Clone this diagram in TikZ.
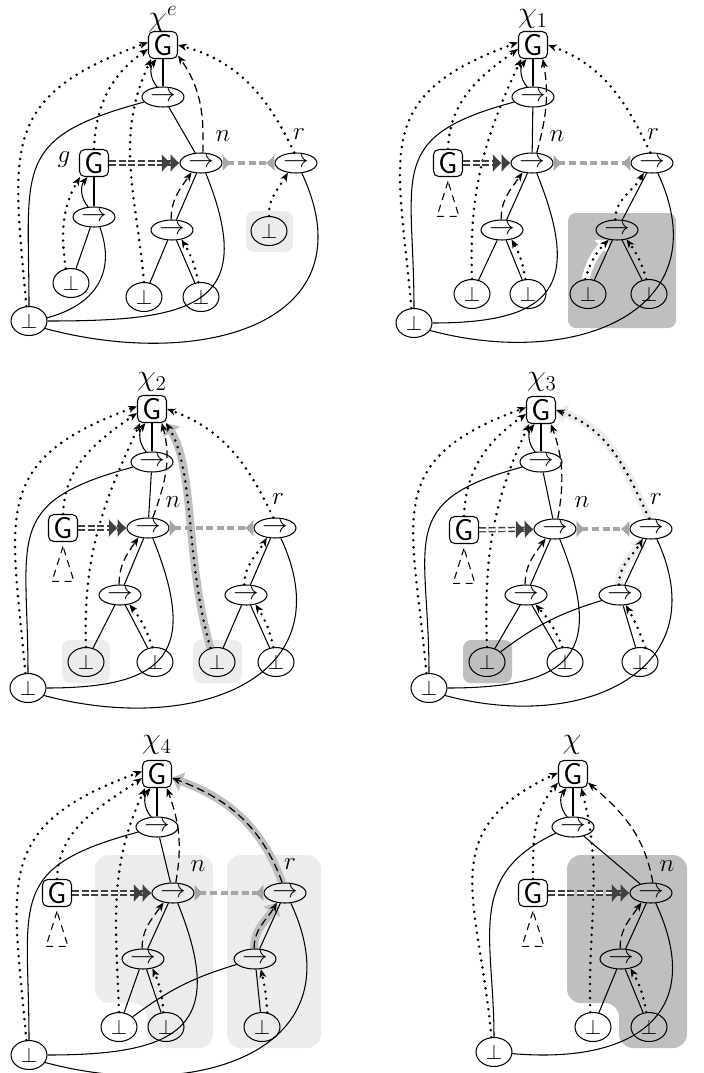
\documentclass[tikz,border=0pt]{standalone}
\usetikzlibrary{shapes.geometric, arrows.meta, backgrounds}

\begin{document}
\begin{tikzpicture}[
    x=0.02cm, y=-0.02cm, line width=0.6pt,
    op/.style={ellipse, draw, minimum width=0.84cm, minimum height=0.4cm, inner sep=0pt, font=\Large},
    bt/.style={ellipse, draw, minimum width=0.72cm, minimum height=0.58cm, inner sep=0pt, font=\large},
    gl/.style={rectangle, draw, rounded corners=3pt, minimum width=0.58cm, minimum height=0.54cm, inner sep=0pt, font=\LARGE\sffamily},
    lab/.style={inner sep=0pt, font=\LARGE},
    nm/.style={inner sep=0pt, font=\Large},
    sol/.style={-{Stealth[length=5pt, width=4pt, inset=1.5pt, line width=0.5pt]}},
    dts/.style={sol, line width=1.6pt, line cap=round, dash pattern=on 0pt off 4pt},
    dsh/.style={sol, line width=0.7pt, dash pattern=on 4.5pt off 2.5pt},
    imp/.style={double=white, double distance=1.4pt, line width=0.8pt, black!75, dash pattern=on 4pt off 1.5pt,
        -{Latex[length=5pt, width=10pt, line width=0pt]Latex[length=5pt, width=10pt, line width=0pt]}},
    eq/.style={line width=2.6pt, gray!70, dash pattern=on 4pt off 2pt,
        {Latex[reversed, length=5pt, width=10pt]}-{Latex[reversed, length=5pt, width=10pt]}},
    hl/.style={line width=4.5pt, -{Triangle[length=6pt, width=11pt]}},
    tri/.style={dash pattern=on 4pt off 3pt},
    box/.style={rounded corners=4.5pt},
]
\useasboundingbox (0,0) rectangle (704,1073);

\node[lab] (chi1) at (163,19) {$\chi^e$};
\node[gl] (G1) at (163,45) {G};
\node[op] (a1) at (163,97) {$\to$};
\node[op] (n1) at (201,163) {$\to$};
\node[op] (r1) at (296,163) {$\to$};
\node[gl] (g1) at (94,163) {G};
\node[op] (s1) at (94,217) {$\to$};
\node[bt] (u1) at (71,283) {$\bot$};
\node[op] (m1) at (172,230) {$\to$};
\node[bt] (p1) at (144,297) {$\bot$};
\node[bt] (q1) at (201,297) {$\bot$};
\node[bt] (v1) at (269,231) {$\bot$};
\node[bt] (b1) at (29,321) {$\bot$};
\node[nm] (ln1) at (223,136) {$n$};
\node[nm] (lr1) at (299,134) {$r$};
\node[nm] (lg1) at (64,160) {$g$};
\begin{scope}[on background layer]
\fill[gray!15, box] (246,211) rectangle (293,252);
\end{scope}
\draw (G1) -- (a1);
\draw[sol] (a1.120) to[bend left=40] (G1.245);
\draw (a1) -- (n1);
\draw[dsh] (n1.80) to[out=88, in=-55] (G1.-35);
\draw (a1.195) to[out=195, in=90, looseness=1.5] (b1.north);
\draw[dts] (b1.100) to[out=95, in=200, looseness=1.4] (G1.170);
\draw[dts] (g1.north) to[out=88, in=215] (G1.195);
\draw[dts] (p1.north) to[out=95, in=245] (G1.230);
\draw[dts] (r1.100) to[out=115, in=-15] (G1.east);
\draw (g1) -- (s1);
\draw[sol] (s1.120) to[bend left=40] (g1.245);
\draw (s1) -- (u1);
\draw (s1.-60) to[out=-70, in=15, looseness=1.2] (b1.10);
\draw[dts] (u1.110) to[out=98, in=240] (g1.225);
\draw[imp] (g1) -- (n1);
\draw[eq] (n1) -- (r1);
\draw[dsh] (m1.95) to[out=90, in=235] (n1.225);
\draw (n1) -- (m1);
\draw (m1) -- (p1);
\draw (m1) -- (q1);
\draw[dts] (q1.100) to[bend right=10] (m1.-45);
\draw (n1.-65) to[out=-68, in=0, looseness=1.7] (b1.0);
\draw (r1.-60) to[out=-65, in=-15, looseness=1.4] (b1.-25);
\draw[dts] (v1.north) to[out=92, in=240] (r1.230);

\node[lab] (chi2) at (533,19) {$\chi_1$};
\node[gl] (G2) at (533,45) {G};
\node[op] (a2) at (533,97) {$\to$};
\node[op] (n2) at (532,163) {$\to$};
\node[op] (r2) at (652,163) {$\to$};
\node[gl] (g2) at (448,163) {G};
\node[op] (m2) at (502,230) {$\to$};
\node[bt] (p2) at (472,294) {$\bot$};
\node[bt] (q2) at (528,294) {$\bot$};
\node[op] (k2) at (617,230) {$\to$};
\node[bt] (v2) at (588,294) {$\bot$};
\node[bt] (w2) at (649,294) {$\bot$};
\node[bt] (b2) at (414,323) {$\bot$};
\node[nm] (ln2) at (557,136) {$n$};
\node[nm] (lr2) at (653,134) {$r$};
\begin{scope}[on background layer]
\fill[gray!50, box] (568,213) rectangle (676,328);
\draw[hl, white] (v2.100) to[bend left=15] (k2.230);
\end{scope}
\draw[tri] ([yshift=-2.5pt]g2.south) -- ++(-11,35) -- ++(22,0) -- cycle;
\draw (G2) -- (a2);
\draw[sol] (a2.120) to[bend left=40] (G2.245);
\draw (a2) -- (n2);
\draw[dsh] (n2.65) to[out=75, in=-80] (G2.-55);
\draw (a2.195) to[out=195, in=90, looseness=1.5] (b2.north);
\draw[dts] (b2.100) to[out=95, in=200, looseness=1.4] (G2.170);
\draw[dts] (g2.north) to[out=88, in=215] (G2.195);
\draw[dts] (p2.north) to[out=92, in=245] (G2.230);
\draw[dts] (r2.100) to[out=115, in=-20] (G2.east);
\draw[imp] (g2) -- (n2);
\draw[eq] (n2) -- (r2);
\draw[dsh] (m2.95) to[out=90, in=235] (n2.225);
\draw (n2) -- (m2);
\draw (m2) -- (p2);
\draw (m2) -- (q2);
\draw[dts] (q2.100) to[bend right=10] (m2.-45);
\draw (n2.-65) to[out=-68, in=0, looseness=1.7] (b2.0);
\draw (r2.-60) to[out=-65, in=-15, looseness=1.4] (b2.-25);
\draw (r2) -- (k2);
\draw[dts] (k2.100) to[out=88, in=240] (r2.230);
\draw (k2) -- (v2);
\draw (k2) -- (w2);
\draw[dts] (w2.100) to[bend right=10] (k2.-45);
\draw[dts] (v2.100) to[bend left=15] (k2.230);

\node[lab] (chi3) at (152,382) {$\chi_2$};
\node[gl] (G3) at (152,409) {G};
\node[op] (a3) at (152,462) {$\to$};
\node[op] (n3) at (148,528) {$\to$};
\node[op] (r3) at (275,528) {$\to$};
\node[gl] (g3) at (63,528) {G};
\node[op] (m3) at (120,595) {$\to$};
\node[bt] (p3) at (86,662) {$\bot$};
\node[bt] (q3) at (155,662) {$\bot$};
\node[op] (k3) at (246,595) {$\to$};
\node[bt] (v3) at (217,662) {$\bot$};
\node[bt] (w3) at (276,662) {$\bot$};
\node[bt] (b3) at (28,688) {$\bot$};
\node[nm] (ln3) at (173,502) {$n$};
\node[nm] (lr3) at (278,499) {$r$};
\begin{scope}[on background layer]
\fill[gray!15, box] (62,640) rectangle (110,683);
\fill[gray!15, box] (193,640) rectangle (242,683);
\draw[hl, gray!50] (v3.115) .. controls (185,560) and (195,470) .. (G3.-45);
\end{scope}
\draw[tri] ([yshift=-2.5pt]g3.south) -- ++(-11,35) -- ++(22,0) -- cycle;
\draw (G3) -- (a3);
\draw[sol] (a3.120) to[bend left=40] (G3.245);
\draw (a3) -- (n3);
\draw[dsh] (n3.65) to[out=70, in=-75] (G3.-55);
\draw (a3.195) to[out=195, in=90, looseness=1.5] (b3.north);
\draw[dts] (b3.100) to[out=95, in=200, looseness=1.4] (G3.170);
\draw[dts] (g3.north) to[out=88, in=215] (G3.195);
\draw[dts] (p3.north) to[out=92, in=245] (G3.230);
\draw[dts] (v3.115) .. controls (185,560) and (195,470) .. (G3.-45);
\draw[dts] (r3.100) to[out=115, in=-20] (G3.east);
\draw[imp] (g3) -- (n3);
\draw[eq] (n3) -- (r3);
\draw[dsh] (m3.95) to[out=90, in=235] (n3.225);
\draw (n3) -- (m3);
\draw (m3) -- (p3);
\draw (m3) -- (q3);
\draw[dts] (q3.100) to[bend right=10] (m3.-45);
\draw (n3.-65) to[out=-68, in=0, looseness=1.7] (b3.0);
\draw (r3.-60) to[out=-65, in=-15, looseness=1.4] (b3.-25);
\draw (r3) -- (k3);
\draw[dts] (k3.100) to[out=88, in=240] (r3.230);
\draw (k3) -- (v3);
\draw (k3) -- (w3);
\draw[dts] (w3.100) to[bend right=10] (k3.-45);

\node[lab] (chi4) at (542,382) {$\chi_3$};
\node[gl] (G4) at (541,410) {G};
\node[op] (a4) at (541,462) {$\to$};
\node[op] (n4) at (555,529) {$\to$};
\node[op] (r4) at (651,529) {$\to$};
\node[gl] (g4) at (464,530) {G};
\node[op] (m4) at (526,595) {$\to$};
\node[bt] (p4) at (487,662) {$\bot$};
\node[bt] (q4) at (565,662) {$\bot$};
\node[op] (k4) at (620,595) {$\to$};
\node[bt] (w4) at (640,662) {$\bot$};
\node[bt] (b4) at (429,688) {$\bot$};
\node[nm] (ln4) at (582,502) {$n$};
\node[nm] (lr4) at (656,499) {$r$};
\begin{scope}[on background layer]
\fill[gray!50, box] (463,640) rectangle (512,683);
\draw[hl, gray!15] (r4.100) to[out=115, in=-20] (G4.east);
\draw[hl, gray!15] (k4.95) to[out=90, in=240] (r4.230);
\end{scope}
\draw[tri] ([yshift=-2.5pt]g4.south) -- ++(-11,35) -- ++(22,0) -- cycle;
\draw (G4) -- (a4);
\draw[sol] (a4.120) to[bend left=40] (G4.245);
\draw (a4) -- (n4);
\draw[dsh] (n4.75) to[out=80, in=-70] (G4.-55);
\draw (a4.195) to[out=195, in=90, looseness=1.5] (b4.north);
\draw[dts] (b4.100) to[out=95, in=200, looseness=1.4] (G4.170);
\draw[dts] (g4.north) to[out=88, in=215] (G4.195);
\draw[dts] (p4.north) to[out=92, in=245] (G4.230);
\draw[dts] (r4.100) to[out=115, in=-20] (G4.east);
\draw[imp] (g4) -- (n4);
\draw[eq] (n4) -- (r4);
\draw[dsh] (m4.95) to[out=90, in=235] (n4.225);
\draw (n4) -- (m4);
\draw (m4) -- (p4);
\draw (m4) -- (q4);
\draw[dts] (q4.100) to[bend right=10] (m4.-45);
\draw (p4) to[bend left=10] (k4);
\draw (n4.-65) to[out=-68, in=0, looseness=1.7] (b4.0);
\draw (r4.-60) to[out=-65, in=-15, looseness=1.4] (b4.-25);
\draw (r4) -- (k4);
\draw[dts] (k4.95) to[out=90, in=240] (r4.230);
\draw (k4) -- (w4);
\draw[dts] (w4.70) to[bend right=5] (k4.-60);

\node[lab] (chi5) at (157,745) {$\chi_4$};
\node[gl] (G5) at (157,774) {G};
\node[op] (a5) at (157,827) {$\to$};
\node[op] (n5) at (173,893) {$\to$};
\node[op] (r5) at (285,893) {$\to$};
\node[gl] (g5) at (57,893) {G};
\node[op] (m5) at (143,959) {$\to$};
\node[bt] (p5) at (119,1027) {$\bot$};
\node[bt] (q5) at (166,1027) {$\bot$};
\node[op] (k5) at (255,959) {$\to$};
\node[bt] (w5) at (262,1027) {$\bot$};
\node[bt] (b5) at (29,1055) {$\bot$};
\node[nm] (ln5) at (198,866) {$n$};
\node[nm] (lr5) at (290,864) {$r$};
\begin{scope}[on background layer]
\fill[gray!15, rounded corners=8pt] (95,1003) -- (95,855) -- (213,855) -- (213,1048) -- (147,1048) -- (147,1003) -- cycle;
\fill[gray!15, rounded corners=8pt] (227,855) rectangle (321,1048);
\draw[hl, gray!50] (r5.105) to[out=110, in=-20] (G5.-15);
\draw[hl, gray!50] (k5.95) to[out=90, in=240] (r5.230);
\end{scope}
\draw[tri] ([yshift=-2.5pt]g5.south) -- ++(-11,35) -- ++(22,0) -- cycle;
\draw (G5) -- (a5);
\draw[sol] (a5.120) to[bend left=40] (G5.245);
\draw (a5) -- (n5);
\draw[dsh] (n5.75) to[out=80, in=-70] (G5.-55);
\draw (a5.195) to[out=195, in=90, looseness=1.5] (b5.north);
\draw[dts] (b5.100) to[out=95, in=200, looseness=1.4] (G5.170);
\draw[dts] (g5.north) to[out=88, in=215] (G5.195);
\draw[dts] (p5.north) to[out=92, in=245] (G5.230);
\draw[dsh] (r5.105) to[out=110, in=-20] (G5.-15);
\draw[imp] (g5) -- (n5);
\draw[eq] (n5) -- (r5);
\draw[dsh] (m5.95) to[out=90, in=235] (n5.225);
\draw (n5) -- (m5);
\draw (m5) -- (p5);
\draw (m5) -- (q5);
\draw[dts] (q5.100) to[bend right=10] (m5.-45);
\draw (p5) to[bend left=10] (k5);
\draw (n5.-65) to[out=-68, in=0, looseness=1.7] (b5.0);
\draw (r5.-60) to[out=-65, in=-15, looseness=1.4] (b5.-25);
\draw (r5) -- (k5);
\draw[dsh] (k5.95) to[out=90, in=240] (r5.230);
\draw (k5) -- (w5);
\draw[dts] (w5.70) to[bend right=5] (k5.-60);

\node[lab] (chi6) at (572,745) {$\chi$};
\node[gl] (G6) at (573,774) {G};
\node[op] (a6) at (573,827) {$\to$};
\node[op] (n6) at (651,893) {$\to$};
\node[gl] (g6) at (533,893) {G};
\node[op] (m6) at (621,959) {$\to$};
\node[bt] (p6) at (593,1027) {$\bot$};
\node[bt] (q6) at (649,1027) {$\bot$};
\node[bt] (b6) at (494,1052) {$\bot$};
\node[nm] (ln6) at (667,866) {$n$};
\begin{scope}[on background layer]
\fill[gray!50, rounded corners=8pt] (567,1003) -- (567,855) -- (687,855) -- (687,1048) -- (619,1048) -- (619,1003) -- cycle;
\end{scope}
\draw[tri] ([yshift=-2.5pt]g6.south) -- ++(-11,35) -- ++(22,0) -- cycle;
\draw (G6) -- (a6);
\draw[sol] (a6.120) to[bend left=40] (G6.245);
\draw (a6) -- (n6);
\draw[dsh] (n6.80) to[out=100, in=-40] (G6.-30);
\draw (a6.200) to[out=205, in=90, looseness=1.2] (b6.north);
\draw[dts] (b6.100) to[out=95, in=205, looseness=1.3] (G6.175);
\draw[dts] (g6.north) to[out=90, in=230] (G6.210);
\draw[dts] (p6.100) to[out=92, in=-75] (G6.-60);
\draw[imp] (g6) -- (n6);
\draw[dsh] (m6.95) to[out=90, in=235] (n6.225);
\draw (n6) -- (m6);
\draw (m6) -- (p6);
\draw (m6) -- (q6);
\draw[dts] (q6.100) to[bend right=10] (m6.-45);
\draw (n6.-65) to[out=-65, in=-5, looseness=1.5] (b6.-5);
\end{tikzpicture}
\end{document}
